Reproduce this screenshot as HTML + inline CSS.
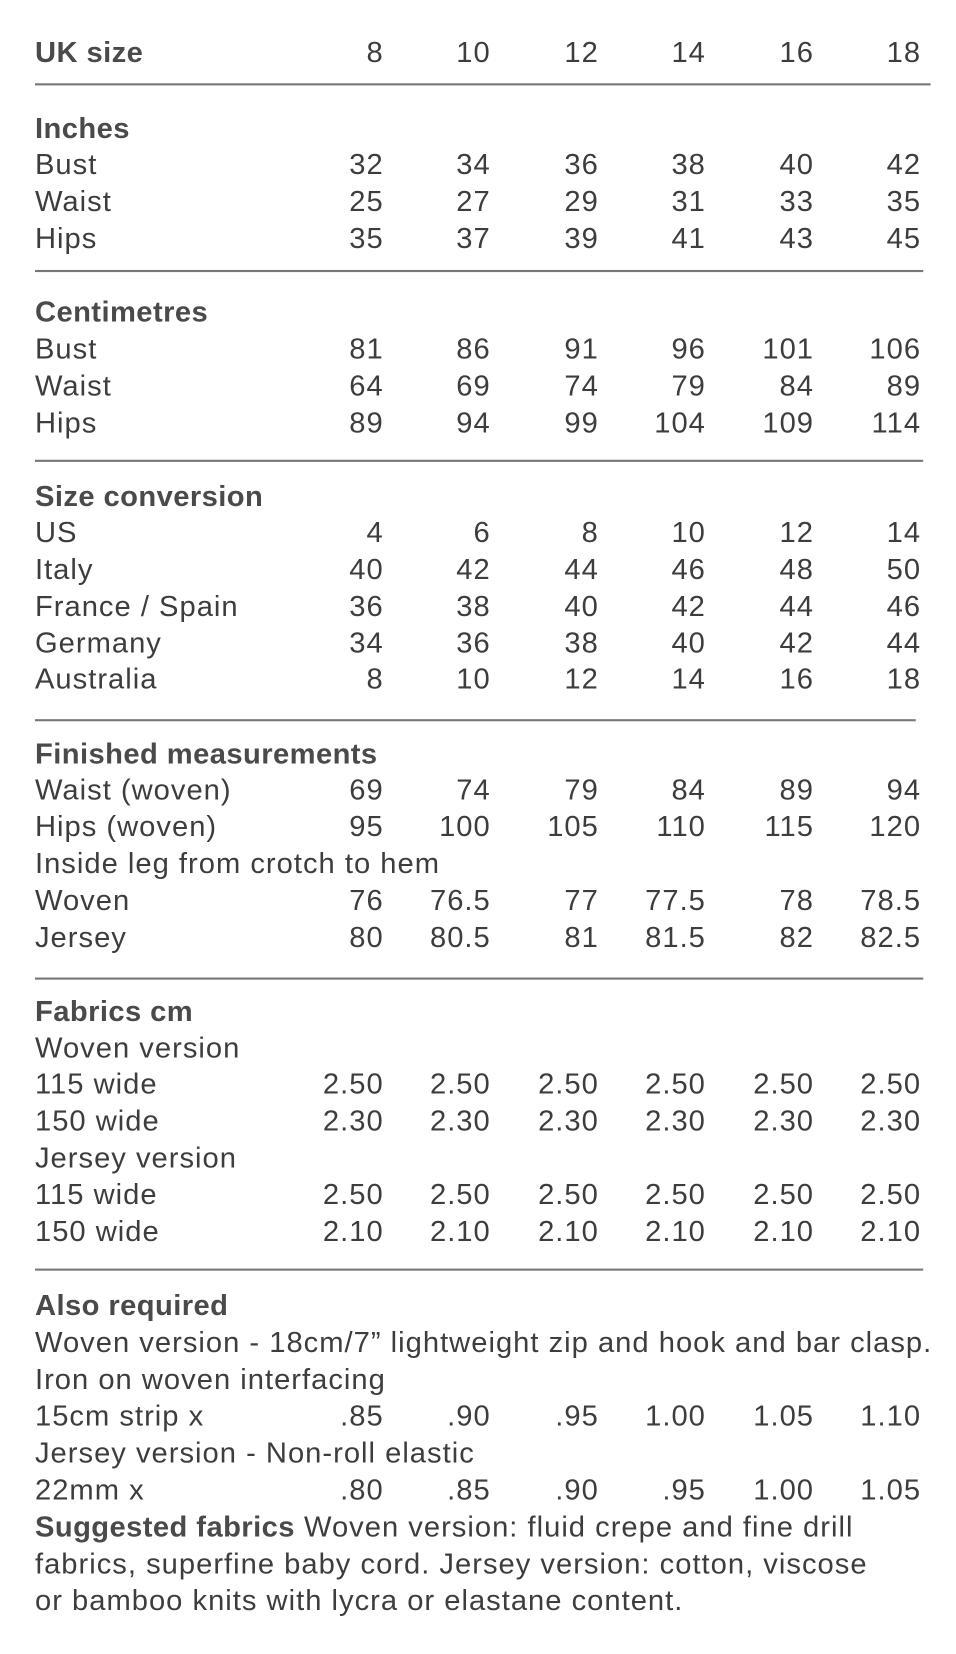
<!DOCTYPE html>
<html><head><meta charset="utf-8"><style>
body{margin:0;width:956px;height:1654px;background:#fff;position:relative;font-family:"Liberation Sans",sans-serif;color:#3d3d3d;font-size:27.5px;letter-spacing:0.95px;overflow:hidden}
#w{position:absolute;left:0;top:0;width:902px;height:1560px;transform:scale(1.0599,1.0545);transform-origin:0 0}
.r{position:absolute;left:0;width:902px;height:36px;line-height:36px}
.r span{position:absolute;white-space:nowrap}
.l{left:33px}
.h{font-weight:bold;color:#4a4a4a;letter-spacing:0.4px}
.c1{right:540px}.c2{right:439px}.c3{right:337px}.c4{right:236px}.c5{right:134px}.c6{right:33px}
.ln{position:absolute;left:33px;height:2px;background:#777}
</style></head><body><div id="w">
<div class="r" style="top:32px"><span class="l h">UK size</span><span class="c1">8</span><span class="c2">10</span><span class="c3">12</span><span class="c4">14</span><span class="c5">16</span><span class="c6">18</span></div>
<div class="ln" style="top:79px;width:845px"></div>

<div class="r" style="top:104px"><span class="l h">Inches</span></div>
<div class="r" style="top:138px"><span class="l">Bust</span><span class="c1">32</span><span class="c2">34</span><span class="c3">36</span><span class="c4">38</span><span class="c5">40</span><span class="c6">42</span></div>
<div class="r" style="top:173px"><span class="l">Waist</span><span class="c1">25</span><span class="c2">27</span><span class="c3">29</span><span class="c4">31</span><span class="c5">33</span><span class="c6">35</span></div>
<div class="r" style="top:208px"><span class="l">Hips</span><span class="c1">35</span><span class="c2">37</span><span class="c3">39</span><span class="c4">41</span><span class="c5">43</span><span class="c6">45</span></div>
<div class="ln" style="top:256px;width:838px"></div>

<div class="r" style="top:278px"><span class="l h">Centimetres</span></div>
<div class="r" style="top:313px"><span class="l">Bust</span><span class="c1">81</span><span class="c2">86</span><span class="c3">91</span><span class="c4">96</span><span class="c5">101</span><span class="c6">106</span></div>
<div class="r" style="top:348px"><span class="l">Waist</span><span class="c1">64</span><span class="c2">69</span><span class="c3">74</span><span class="c4">79</span><span class="c5">84</span><span class="c6">89</span></div>
<div class="r" style="top:383px"><span class="l">Hips</span><span class="c1">89</span><span class="c2">94</span><span class="c3">99</span><span class="c4">104</span><span class="c5">109</span><span class="c6">114</span></div>
<div class="ln" style="top:436px;width:838px"></div>

<div class="r" style="top:453px"><span class="l h">Size conversion</span></div>
<div class="r" style="top:487px"><span class="l">US</span><span class="c1">4</span><span class="c2">6</span><span class="c3">8</span><span class="c4">10</span><span class="c5">12</span><span class="c6">14</span></div>
<div class="r" style="top:522px"><span class="l">Italy</span><span class="c1">40</span><span class="c2">42</span><span class="c3">44</span><span class="c4">46</span><span class="c5">48</span><span class="c6">50</span></div>
<div class="r" style="top:557px"><span class="l">France / Spain</span><span class="c1">36</span><span class="c2">38</span><span class="c3">40</span><span class="c4">42</span><span class="c5">44</span><span class="c6">46</span></div>
<div class="r" style="top:592px"><span class="l">Germany</span><span class="c1">34</span><span class="c2">36</span><span class="c3">38</span><span class="c4">40</span><span class="c5">42</span><span class="c6">44</span></div>
<div class="r" style="top:626px"><span class="l">Australia</span><span class="c1">8</span><span class="c2">10</span><span class="c3">12</span><span class="c4">14</span><span class="c5">16</span><span class="c6">18</span></div>
<div class="ln" style="top:682px;width:831px"></div>

<div class="r" style="top:697px"><span class="l h">Finished measurements</span></div>
<div class="r" style="top:731px"><span class="l">Waist (woven)</span><span class="c1">69</span><span class="c2">74</span><span class="c3">79</span><span class="c4">84</span><span class="c5">89</span><span class="c6">94</span></div>
<div class="r" style="top:766px"><span class="l">Hips (woven)</span><span class="c1">95</span><span class="c2">100</span><span class="c3">105</span><span class="c4">110</span><span class="c5">115</span><span class="c6">120</span></div>
<div class="r" style="top:801px"><span class="l">Inside leg from crotch to hem</span></div>
<div class="r" style="top:836px"><span class="l">Woven</span><span class="c1">76</span><span class="c2">76.5</span><span class="c3">77</span><span class="c4">77.5</span><span class="c5">78</span><span class="c6">78.5</span></div>
<div class="r" style="top:871px"><span class="l">Jersey</span><span class="c1">80</span><span class="c2">80.5</span><span class="c3">81</span><span class="c4">81.5</span><span class="c5">82</span><span class="c6">82.5</span></div>
<div class="ln" style="top:927px;width:838px"></div>

<div class="r" style="top:941px"><span class="l h">Fabrics cm</span></div>
<div class="r" style="top:976px"><span class="l">Woven version</span></div>
<div class="r" style="top:1010px"><span class="l">115 wide</span><span class="c1">2.50</span><span class="c2">2.50</span><span class="c3">2.50</span><span class="c4">2.50</span><span class="c5">2.50</span><span class="c6">2.50</span></div>
<div class="r" style="top:1045px"><span class="l">150 wide</span><span class="c1">2.30</span><span class="c2">2.30</span><span class="c3">2.30</span><span class="c4">2.30</span><span class="c5">2.30</span><span class="c6">2.30</span></div>
<div class="r" style="top:1080px"><span class="l">Jersey version</span></div>
<div class="r" style="top:1115px"><span class="l">115 wide</span><span class="c1">2.50</span><span class="c2">2.50</span><span class="c3">2.50</span><span class="c4">2.50</span><span class="c5">2.50</span><span class="c6">2.50</span></div>
<div class="r" style="top:1150px"><span class="l">150 wide</span><span class="c1">2.10</span><span class="c2">2.10</span><span class="c3">2.10</span><span class="c4">2.10</span><span class="c5">2.10</span><span class="c6">2.10</span></div>
<div class="ln" style="top:1203px;width:838px"></div>

<div class="r" style="top:1220px"><span class="l h">Also required</span></div>
<div class="r" style="top:1255px"><span class="l">Woven version - 18cm/7” lightweight zip and hook and bar clasp.</span></div>
<div class="r" style="top:1290px"><span class="l">Iron on woven interfacing</span></div>
<div class="r" style="top:1325px"><span class="l">15cm strip x</span><span class="c1">.85</span><span class="c2">.90</span><span class="c3">.95</span><span class="c4">1.00</span><span class="c5">1.05</span><span class="c6">1.10</span></div>
<div class="r" style="top:1360px"><span class="l">Jersey version - Non-roll elastic</span></div>
<div class="r" style="top:1395px"><span class="l">22mm x</span><span class="c1">.80</span><span class="c2">.85</span><span class="c3">.90</span><span class="c4">.95</span><span class="c5">1.00</span><span class="c6">1.05</span></div>
<div class="r" style="top:1430px"><span class="l"><b style="color:#4a4a4a;letter-spacing:0.4px">Suggested fabrics</b> Woven version: fluid crepe and fine drill</span></div>
<div class="r" style="top:1465px"><span class="l">fabrics, superfine baby cord. Jersey version: cotton, viscose</span></div>
<div class="r" style="top:1500px"><span class="l">or bamboo knits with lycra or elastane content.</span></div>
</div></body></html>
